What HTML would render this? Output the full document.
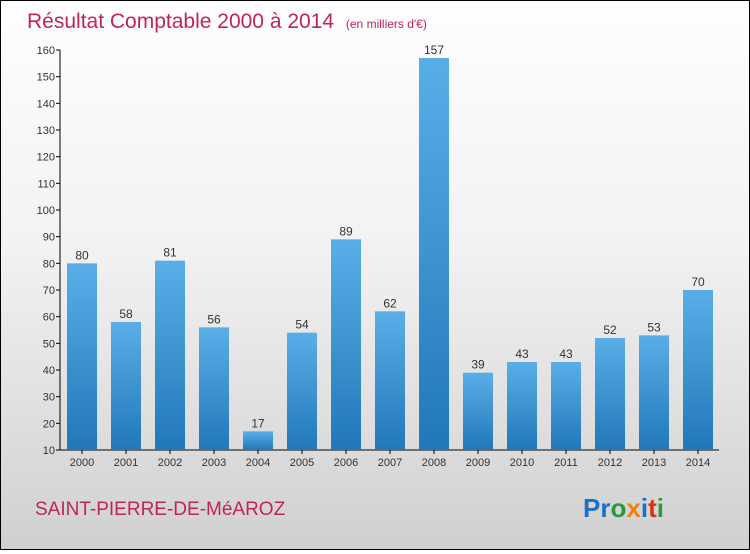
<!DOCTYPE html>
<html><head><meta charset="utf-8"><style>
body{margin:0}
#c{width:748px;height:548px;border:1px solid #000;background:linear-gradient(#fefefe 0%,#f2f2f2 45%,#d0d0d0 100%);position:relative;font-family:"Liberation Sans",sans-serif}
</style></head><body>
<div id="c">
<svg id="s" width="748" height="548">
<defs><linearGradient id="g" x1="0" y1="0" x2="0" y2="1"><stop offset="0" stop-color="#5aaee8"/><stop offset="1" stop-color="#2277b8"/></linearGradient></defs>
<text x="26" y="27" font-size="21" fill="#c0245c">Résultat Comptable 2000 à 2014 <tspan font-size="12" dx="6">(en milliers d'€)</tspan></text>
<text x="34" y="514" font-size="19" fill="#c0245c">SAINT-PIERRE-DE-MéAROZ</text>
<text x="582" y="516" font-size="26" font-weight="bold"><tspan fill="#1a6fc8">Pr</tspan><tspan fill="#2a9a3a">o</tspan><tspan fill="#f08010">x</tspan><tspan fill="#1a6fc8">i</tspan><tspan fill="#e03010">t</tspan><tspan fill="#2a9a3a">i</tspan></text>
<g id="plot"></g>
</svg></div>
<script>
const categories=["2000","2001","2002","2003","2004","2005","2006","2007","2008","2009","2010","2011","2012","2013","2014"];
const values=[80,58,81,56,17,54,89,62,157,39,43,43,52,53,70];
const ticks=[10,20,30,40,50,60,70,80,90,100,110,120,130,140,150,160];
const NS="http://www.w3.org/2000/svg";
const g=document.getElementById('plot');
const y=v=>449-(v-10)*400/150;
const x=i=>66+i*44;
function el(t,a,txt){const e=document.createElementNS(NS,t);for(const k in a)e.setAttribute(k,a[k]);if(txt!==undefined)e.textContent=txt;g.appendChild(e);return e;}
const ax=el('line',{x1:59,y1:49,x2:59,y2:449,stroke:'#000'});

const bx=el('line',{x1:59,y1:449,x2:718,y2:449,stroke:'#000'});

ticks.forEach(t=>{
 const l=el('line',{x1:55,y1:y(t),x2:59,y2:y(t),stroke:'#000'});
 
 const tx=el('text',{x:54,y:y(t)+4,'font-size':11,fill:'#333','text-anchor':'end'},t);
 
});
categories.forEach((c,i)=>{
 const v=values[i];
 const r=el('rect',{x:x(i),y:y(v),width:30,height:449-y(v),fill:'url(#g)'});
 
 const vl=el('text',{x:x(i)+15,y:y(v)-4,'font-size':12,fill:'#333','text-anchor':'middle'},v);
 
 const tk=el('line',{x1:x(i)+15,y1:449,x2:x(i)+15,y2:453,stroke:'#000'});
 
 const cl=el('text',{x:x(i)+15,y:465,'font-size':11,fill:'#333','text-anchor':'middle'},c);
 
});
</script>
</body></html>
